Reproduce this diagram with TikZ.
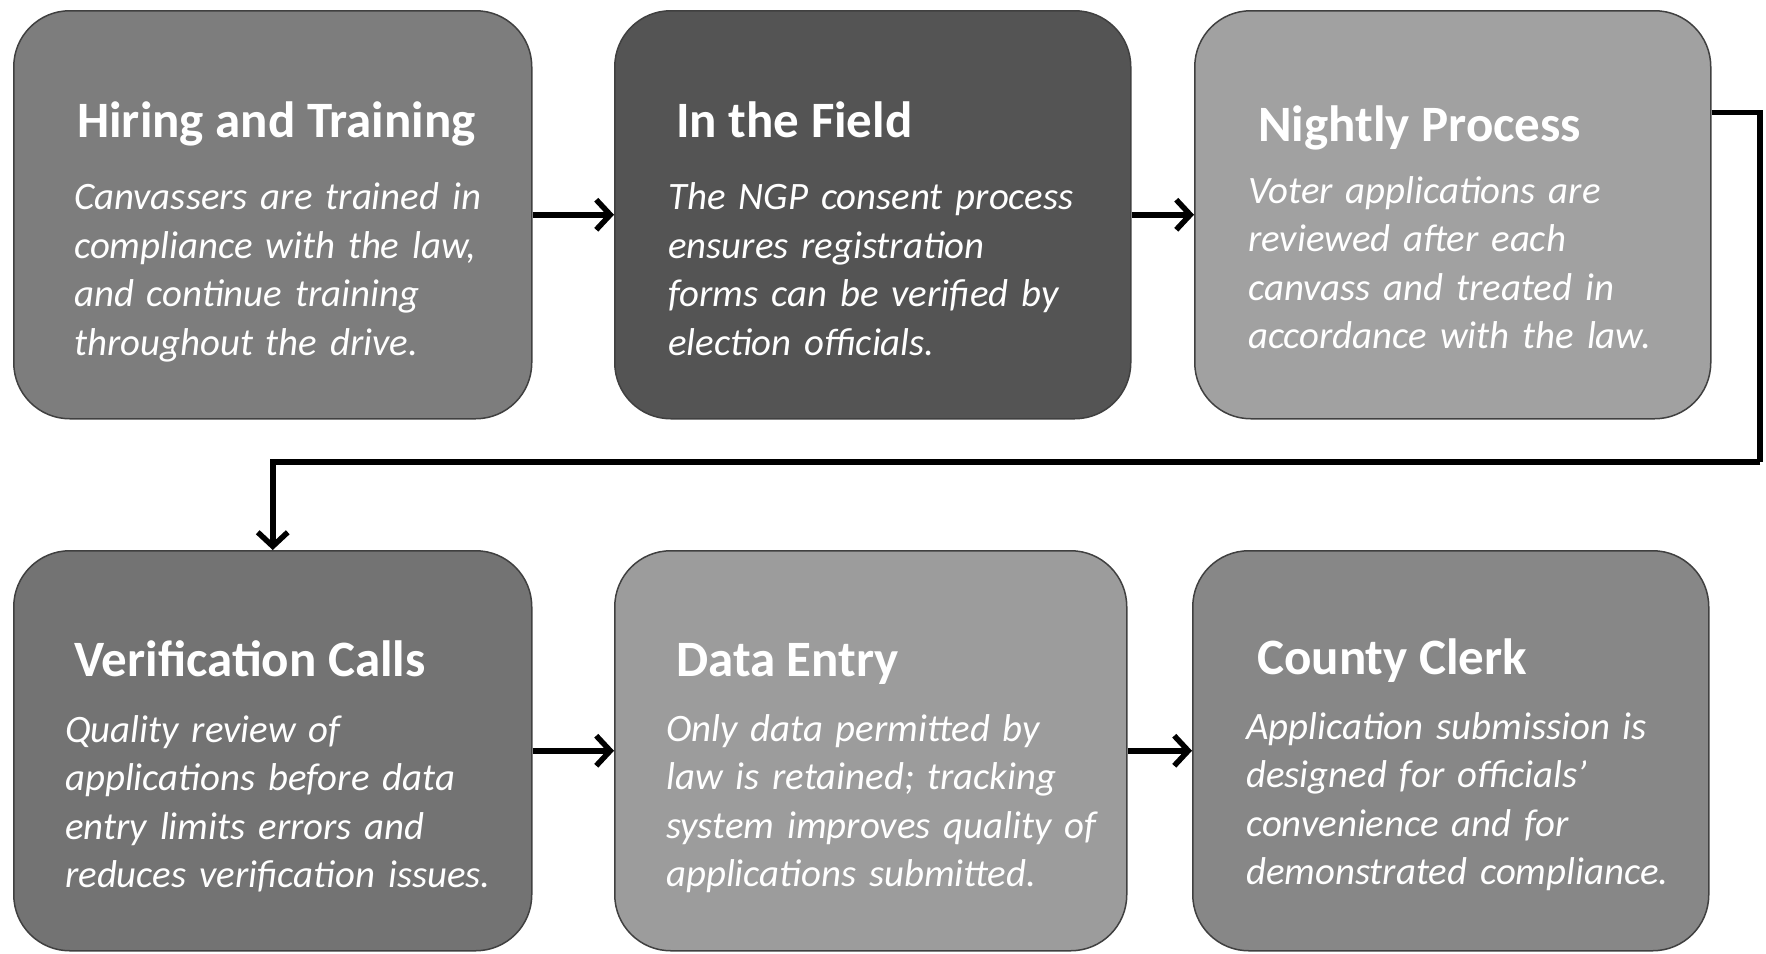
\documentclass[tikz,border=0pt]{standalone}
\usepackage{fontspec}
\setmainfont{Carlito}
\usetikzlibrary{arrows.meta,calc}
\definecolor{fA}{gray}{0.49}
\definecolor{fB}{gray}{0.33}
\definecolor{fC}{gray}{0.63}
\definecolor{fD}{gray}{0.45}
\definecolor{fE}{gray}{0.61}
\definecolor{fF}{gray}{0.53}
\tikzset{
  box/.style={draw=black!75, line width=1.5pt, rounded corners=56pt,
    inner sep=0pt, anchor=north west},
  ttl/.style={anchor=base west, inner sep=0pt,
    font=\fontsize{51}{61}\selectfont\bfseries, text=white},
  bdy/.style={anchor=base west, inner sep=0pt, text width=480pt, align=left,
    font=\fontsize{38.8}{48.5}\selectfont\itshape, text=white},
  arr/.style={line width=5.5pt, line cap=butt,
    -{Straight Barb[length=14pt,width=30pt,line width=5.5pt]}},
}
\begin{document}
\begin{tikzpicture}[x=1pt,y=-1pt]
\useasboundingbox (0,0) rectangle (1766,953);
% boxes
\node[box, fill=fA, minimum width=518pt, minimum height=408pt] (b1) at (13,10) {};
\node[box, fill=fB, minimum width=516pt, minimum height=408pt] (b2) at (614,10) {};
\node[box, fill=fC, minimum width=516pt, minimum height=408pt] (b3) at (1194,10) {};
\node[box, fill=fD, minimum width=518pt, minimum height=400pt] (b4) at (13,550) {};
\node[box, fill=fE, minimum width=512pt, minimum height=400pt] (b5) at (614,550) {};
\node[box, fill=fF, minimum width=516pt, minimum height=400pt] (b6) at (1192,550) {};
% texts
\node[ttl] (t1) at (77,137) {Hiring and Training};
\node[bdy] (d1) at (74,209.5) {Canvassers are trained in\\compliance with the law,\\and continue training\\throughout the drive.};
\node[ttl] (t2) at (676,137) {In the Field};
\node[bdy] (d2) at (668,209.5) {The NGP consent process\\ensures registration\\forms can be verified by\\election officials.};
\node[ttl] (t3) at (1258,141) {Nightly Process};
\node[bdy] (d3) at (1248,203) {Voter applications are\\reviewed after each\\canvass and treated in\\accordance with the law.};
\node[ttl] (t4) at (74,676) {Verification Calls};
\node[bdy] (d4) at (65,742) {Quality review of\\applications before data\\entry limits errors and\\reduces verification issues.};
\node[ttl] (t5) at (676,676) {Data Entry};
\node[bdy] (d5) at (666,741) {Only data permitted by\\law is retained; tracking\\system improves quality of\\applications submitted.};
\node[ttl] (t6) at (1257,674) {County Clerk};
\node[bdy] (d6) at (1246,739) {Application submission is\\designed for officials’\\convenience and for\\demonstrated compliance.};
% connectors
\draw[arr] (b1.east) -- (b2.west);
\draw[arr] (b2.east) -- (b3.west);
\coordinate (s3) at ($(b3.north east)!0.25!(b3.south east)$);
\coordinate (k) at (1760,462);
\draw[line width=5.5pt, line join=miter] (s3) -| (k);
\draw[arr, line join=miter] (k) -| (b4.north);
\draw[arr] (b4.east) -- (b5.west);
\draw[arr] (b5.east) -- (b6.west);
\end{tikzpicture}
\end{document}
